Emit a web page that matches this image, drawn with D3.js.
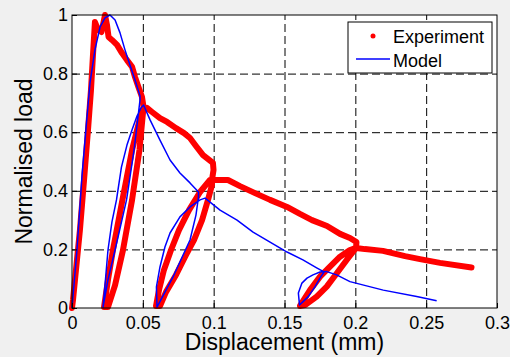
<!DOCTYPE html>
<html>
<head>
<meta charset="utf-8">
<script src="https://cdn.jsdelivr.net/npm/d3@7"></script>
<style>
  html, body { margin: 0; padding: 0; background: #f0f0f0; }
  svg { display: block; font-family: 'Liberation Sans', Arial, sans-serif; }
</style>
</head>
<body>
<svg id="chart"></svg>
<script>
// experiment: loading, softening and three unload/reload loops
var expX = [0, 0.0007, 0.0028, 0.0056, 0.0085, 0.0113, 0.0134, 0.0148, 0.0162, 0.0184, 0.0208, 0.0233,
  0.0247, 0.0258, 0.0282, 0.0318, 0.0353, 0.0388, 0.0424, 0.0445, 0.0469, 0.0494, 0.0505,
  0.0476, 0.0424, 0.0360, 0.0304, 0.0254,
  0.0226, 0.0254, 0.0289, 0.0356, 0.0424, 0.0480, 0.0501,
  0.0529, 0.0565, 0.0621, 0.0671, 0.0734, 0.0791, 0.0833, 0.0875, 0.0925, 0.0995, 0.0999, 0.0988,
  0.0988, 0.0960, 0.0918, 0.0861, 0.0805, 0.0734, 0.0664, 0.0621,
  0.0593, 0.0614, 0.0649, 0.0699, 0.0755, 0.0826, 0.0904, 0.0974,
  0.1024, 0.1101, 0.1186, 0.1292, 0.1398, 0.1518, 0.1609, 0.1694, 0.1800, 0.1892, 0.1962, 0.2008, 0.2005,
  0.1983, 0.1939, 0.1868, 0.1798, 0.1727, 0.1645,
  0.1609, 0.1680, 0.1751, 0.1821, 0.1892, 0.1962, 0.2005,
  0.2068, 0.2195, 0.2351, 0.2456, 0.2598, 0.2820];
var expLoad = [0, 0.027, 0.13, 0.266, 0.437, 0.608, 0.744, 0.863, 0.976, 0.949, 0.942, 1.0,
  0.966, 0.925, 0.915, 0.898, 0.870, 0.846, 0.823, 0.788, 0.754, 0.720, 0.686,
  0.539, 0.369, 0.198, 0.078, 0.003,
  0.003, 0.096, 0.198, 0.369, 0.539, 0.648, 0.676,
  0.683, 0.669, 0.648, 0.635, 0.614, 0.597, 0.580, 0.553, 0.522, 0.495, 0.471, 0.437,
  0.420, 0.369, 0.300, 0.232, 0.181, 0.113, 0.055, 0.007,
  0.007, 0.061, 0.130, 0.198, 0.266, 0.334, 0.396, 0.437,
  0.437, 0.437, 0.416, 0.392, 0.369, 0.345, 0.321, 0.300, 0.280, 0.253, 0.239, 0.225, 0.205,
  0.191, 0.164, 0.118, 0.073, 0.039, 0.010,
  0.007, 0.061, 0.107, 0.141, 0.175, 0.198, 0.205,
  0.201, 0.195, 0.177, 0.167, 0.154, 0.138];

// model curve
var modelX = [0, 0.0035, 0.0071, 0.0104, 0.0127, 0.0162, 0.0198, 0.0233, 0.0268, 0.0304, 0.0339, 0.0374, 0.0409, 0.0445, 0.0480,
  0.0480, 0.0438, 0.0385, 0.0304, 0.0254, 0.0219,
  0.0233, 0.0254, 0.0282, 0.0314, 0.0349, 0.0388, 0.0424, 0.0459, 0.0487, 0.0505,
  0.0551, 0.0621, 0.0692, 0.0762, 0.0833, 0.0893, 0.0893,
  0.0875, 0.0833, 0.0713, 0.0600,
  0.0596, 0.0621, 0.0656, 0.0692, 0.0762, 0.0833, 0.0904, 0.0939,
  0.1045, 0.1165, 0.1278, 0.1398, 0.1518, 0.1630, 0.1727, 0.1779,
  0.1750, 0.1715, 0.1666, 0.1606,
  0.1598, 0.1623, 0.1659, 0.1701, 0.1751, 0.1793,
  0.1868, 0.1962, 0.2197, 0.2433, 0.2574];
var modelLoad = [0, 0.198, 0.454, 0.642, 0.768, 0.881, 0.959, 0.990, 1.0, 0.983, 0.939, 0.881, 0.829, 0.778, 0.724,
  0.710, 0.539, 0.369, 0.198, 0.096, 0.003,
  0.078, 0.198, 0.294, 0.369, 0.481, 0.556, 0.608, 0.655, 0.683, 0.693,
  0.642, 0.573, 0.505, 0.461, 0.427, 0.396, 0.379,
  0.317, 0.232, 0.106, 0.003,
  0.072, 0.140, 0.208, 0.256, 0.311, 0.345, 0.369, 0.375,
  0.334, 0.300, 0.259, 0.225, 0.191, 0.164, 0.137, 0.123,
  0.102, 0.072, 0.038, 0.010,
  0.051, 0.085, 0.102, 0.113, 0.123, 0.125,
  0.113, 0.090, 0.061, 0.039, 0.025];

var xTicks = [0, 0.05, 0.1, 0.15, 0.2, 0.25, 0.3],
  xTickLabels = ['0', '0.05', '0.1', '0.15', '0.2', '0.25', '0.3'],
  yTicks = [0, 0.2, 0.4, 0.6, 0.8, 1],
  yTickLabels = ['0', '0.2', '0.4', '0.6', '0.8', '1'],
  seriesNames = ['Experiment', 'Model'];

var svgWidth = 510,
  svgHeight = 357,
  margin = { top: 15, right: 13, bottom: 49, left: 72 },
  innerWidth = svgWidth - margin.left - margin.right,
  innerHeight = svgHeight - margin.top - margin.bottom;

var svg = d3.select('#chart').attr('width', svgWidth).attr('height', svgHeight);

var xScale = d3.scaleLinear().domain([0, 0.3]).range([0, innerWidth]),
  yScale = d3.scaleLinear().domain([0, 1]).range([innerHeight, 0]);

var g = svg.append('g').attr('transform', `translate(${margin.left}, ${margin.top})`);

g.append('rect')
  .attr('width', innerWidth)
  .attr('height', innerHeight)
  .attr('fill', '#fff');

// dashed grid (lines only)
var xGrid = g.append('g')
  .attr('transform', 'translate(0,' + innerHeight + ')')
  .call(d3.axisBottom(xScale).tickValues(xTicks.slice(1, -1)).tickSize(-innerHeight));
var yGrid = g.append('g')
  .call(d3.axisLeft(yScale).tickValues(yTicks.slice(1, -1)).tickSize(-innerWidth));
[xGrid, yGrid].forEach(function (grid) {
  grid.select('.domain').remove();
  grid.selectAll('text').remove();
  grid.selectAll('line').attr('stroke', '#000').attr('stroke-dasharray', '8,4');
});

var line = d3.line()
  .x((d) => xScale(d[0]))
  .y((d) => yScale(d[1]));

g.append('path')
  .datum(expX.map((x, i) => [x, expLoad[i]]))
  .attr('d', line)
  .attr('fill', 'none')
  .attr('stroke', '#ff0000')
  .attr('stroke-width', 6)
  .attr('stroke-linejoin', 'round')
  .attr('stroke-linecap', 'round');

g.append('path')
  .datum(modelX.map((x, i) => [x, modelLoad[i]]))
  .attr('d', line)
  .attr('fill', 'none')
  .attr('stroke', '#0000ff')
  .attr('stroke-width', 1.5)
  .attr('stroke-linejoin', 'round');

// axes, ticks pointing inward
var xAxis = d3.axisBottom(xScale).tickValues(xTicks)
  .tickFormat((d, i) => xTickLabels[i]).tickSize(-5).tickPadding(8);
var yAxis = d3.axisLeft(yScale).tickValues(yTicks)
  .tickFormat((d, i) => yTickLabels[i]).tickSize(-5).tickPadding(4);
var xa = g.append('g').attr('transform', 'translate(0,' + innerHeight + ')').call(xAxis);
var ya = g.append('g').call(yAxis);
[xa, ya].forEach(function (a) {
  a.select('.domain').remove();
  a.selectAll('text').attr('font-size', 18).attr('fill', '#000').attr('font-family', null);
  a.selectAll('line').attr('stroke', '#000');
});

g.append('rect')
  .attr('width', innerWidth)
  .attr('height', innerHeight)
  .attr('fill', 'none')
  .attr('stroke', '#000')
  .attr('stroke-width', 1);

svg.append('text')
  .attr('x', margin.left + innerWidth / 2)
  .attr('y', 350)
  .attr('text-anchor', 'middle')
  .attr('font-size', 23)
  .text('Displacement (mm)');

svg.append('text')
  .attr('transform', 'translate(31.5,' + (margin.top + innerHeight / 2) + ') rotate(-90)')
  .attr('text-anchor', 'middle')
  .attr('font-size', 23)
  .text('Normalised load');

// legend
var legend = svg.append('g').attr('transform', 'translate(348, 22)');
legend.append('rect')
  .attr('width', 144)
  .attr('height', 51)
  .attr('fill', '#fff')
  .attr('stroke', '#000');
legend.append('circle')
  .attr('cx', 25)
  .attr('cy', 14)
  .attr('r', 2.5)
  .attr('fill', '#ff0000');
legend.append('line')
  .attr('x1', 8).attr('x2', 42)
  .attr('y1', 37).attr('y2', 37)
  .attr('stroke', '#0000ff')
  .attr('stroke-width', 1.5);
legend.selectAll('text.lbl')
  .data(seriesNames)
  .enter()
  .append('text')
  .attr('class', 'lbl')
  .attr('x', 45)
  .attr('y', (d, i) => 21 + i * 24)
  .attr('font-size', 18)
  .text((d) => d);
</script>
</body>
</html>
